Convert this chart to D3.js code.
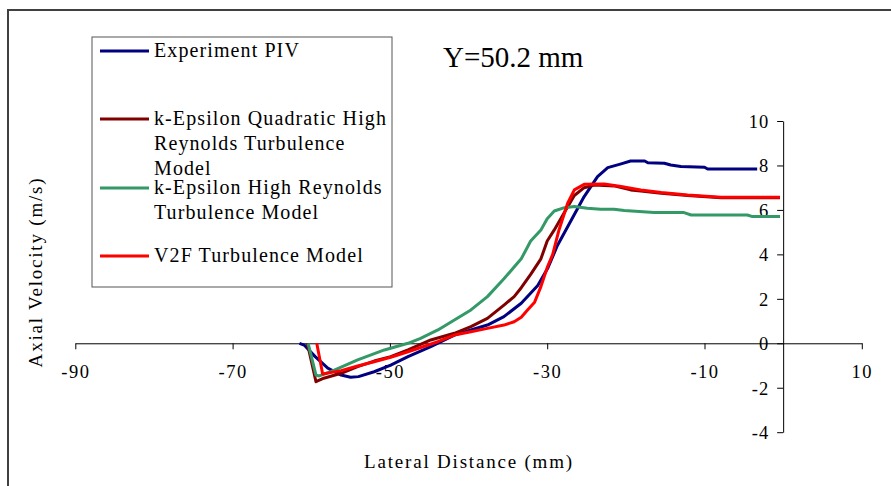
<!DOCTYPE html>
<html>
<head>
<meta charset="utf-8">
<script src="https://cdn.jsdelivr.net/npm/d3@7"></script>
<style>
  html, body { margin: 0; padding: 0; background: #fff; }
  svg { display: block; }
  text { font-family: "Liberation Serif", "Times New Roman", serif; fill: #000; }
</style>
</head>
<body>
<svg id="chart" width="891" height="486"></svg>
<script>
// ---- Data ----
const xTicks = [-90, -70, -50, -30, -10, 10];
const yTicks = [-4, -2, 0, 2, 4, 6, 8, 10];

const seriesNames = [
  "Experiment PIV",
  "k-Epsilon Quadratic High Reynolds Turbulence Model",
  "k-Epsilon High Reynolds Turbulence Model",
  "V2F Turbulence Model"
];
const seriesColors = ["#000080", "#800000", "#339966", "#ff0000"];

const experimentPIV = [
  [-61.5,0],[-60.9,-0.08],[-59.5,-0.6],[-57.9,-1.12],[-56.2,-1.43],[-55.0,-1.53],[-54.0,-1.5],
  [-52.0,-1.28],[-49.9,-0.98],[-47.7,-0.6],[-44.8,-0.15],[-41.8,0.37],[-39.7,0.6],[-37.6,0.82],
  [-35.5,1.2],[-33.3,1.8],[-31.2,2.6],[-29.9,3.4],[-28.7,4.4],[-27.0,5.5],[-25.3,6.6],[-23.6,7.5],
  [-22.3,7.9],[-20.6,8.07],[-19.4,8.2],[-17.6,8.2],[-17.2,8.12],[-15.1,8.1],[-14.3,8.02],
  [-13.0,7.95],[-10.0,7.92],[-9.6,7.84],[-3.3,7.84]
];
const kEpsQuadratic = [
  [-60.5,0],[-59.4,-1.73],[-58.4,-1.57],[-56.2,-1.35],[-54.1,-1.05],[-52.0,-0.8],[-49.9,-0.6],
  [-47.7,-0.3],[-44.8,0.15],[-41.8,0.45],[-39.7,0.75],[-37.6,1.12],[-35.5,1.72],[-34.2,2.1],
  [-33.3,2.5],[-32.1,3.1],[-30.8,3.8],[-30.0,4.6],[-29.1,5.1],[-27.8,5.9],[-26.55,6.65],
  [-25.3,7.0],[-24.0,7.12],[-21.5,7.08],[-19.4,6.9],[-18.1,6.85],[-15.5,6.75],[-12.15,6.65],
  [-7.9,6.55],[-4.5,6.55],[-0.4,6.55]
];
const kEpsHigh = [
  [-60.4,0],[-59.4,-1.43],[-59.0,-1.47],[-57.5,-1.28],[-54.1,-0.75],[-50.7,-0.3],[-47.7,0],
  [-46.1,0.22],[-43.9,0.6],[-41.8,1.05],[-39.7,1.5],[-37.6,2.1],[-35.5,2.9],[-33.3,3.8],
  [-32.1,4.6],[-30.8,5.1],[-30.0,5.6],[-29.1,5.95],[-27.8,6.1],[-26.55,6.15],[-24.9,6.07],
  [-23.2,6.03],[-21.5,6.03],[-20.2,5.97],[-16.4,5.88],[-12.6,5.88],[-11.7,5.77],[-4.55,5.77],
  [-3.9,5.7],[-0.4,5.7]
];
const v2f = [
  [-59.3,0],[-58.55,-1.38],[-56.2,-1.23],[-54.1,-1.02],[-52.0,-0.83],[-49.9,-0.63],[-47.7,-0.38],
  [-43.9,0.07],[-41.8,0.37],[-39.7,0.52],[-37.6,0.67],[-35.5,0.82],[-34.2,0.97],[-33.3,1.17],
  [-32.5,1.5],[-31.6,1.85],[-30.8,2.55],[-29.95,3.45],[-29.3,4.0],[-28.5,5.1],[-27.4,6.3],
  [-26.55,6.9],[-25.3,7.15],[-22.75,7.17],[-20.6,7.05],[-18.1,6.9],[-15.5,6.78],[-12.15,6.67],
  [-7.9,6.57],[-0.4,6.57]
];
const allSeries = [experimentPIV, kEpsQuadratic, kEpsHigh, v2f];

const legendLines = [
  ["Experiment PIV"],
  ["k-Epsilon Quadratic High", "Reynolds Turbulence", "Model"],
  ["k-Epsilon High Reynolds", "Turbulence Model"],
  ["V2F Turbulence Model"]
];

// ---- Drawing ----
const svg = d3.select("#chart");

// outer chart border (extends past the right/bottom edges)
svg.append("rect")
  .attr("x", 8).attr("y", 10).attr("width", 1000).attr("height", 1000)
  .attr("fill", "none").attr("stroke", "#404040").attr("stroke-width", 2);

const x = d3.scaleLinear().domain([-90, 10]).range([75.3, 861.8]);
const y = d3.scaleLinear().domain([-4, 10]).range([432.2, 121]);

const fmt = d => String(d);

// X axis at y = 0
const xAxis = d3.axisBottom(x).tickValues(xTicks).tickSize(6).tickSizeOuter(0).tickFormat(fmt);
const gx = svg.append("g").attr("transform", `translate(0,${y(0)})`).call(xAxis);
gx.select(".domain").attr("stroke", "#000");
gx.selectAll(".tick line").attr("stroke", "#000");
gx.selectAll(".tick text")
  .attr("y", 35).attr("dy", 0)
  .style("font-size", "18.5px").style("letter-spacing", "1.5px")
  .style("font-family", "'Liberation Serif', serif").attr("fill", "#000");

// Y axis at x = 0
const yAxis = d3.axisLeft(y).tickValues(yTicks).tickSize(6).tickSizeOuter(0).tickFormat(fmt);
const gy = svg.append("g").attr("transform", `translate(${x(0)},0)`).call(yAxis);
gy.select(".domain").attr("stroke", "#000");
gy.selectAll(".tick line").attr("stroke", "#000");
gy.selectAll(".tick text")
  .attr("x", -14).attr("dy", "0.35em")
  .style("font-size", "18.5px").style("letter-spacing", "1px")
  .style("font-family", "'Liberation Serif', serif").attr("fill", "#000");

// series lines
const line = d3.line().x(d => x(d[0])).y(d => y(d[1]));
svg.append("g").selectAll("path")
  .data(allSeries)
  .join("path")
  .attr("d", line)
  .attr("fill", "none")
  .attr("stroke", (d, i) => seriesColors[i])
  .attr("stroke-width", 3)
  .attr("stroke-linejoin", "round");

// title
svg.append("text")
  .attr("x", 443).attr("y", 67)
  .style("font-size", "29px")
  .text("Y=50.2 mm");

// axis titles
svg.append("text")
  .attr("x", 469).attr("y", 468)
  .attr("text-anchor", "middle")
  .style("font-size", "19px").style("letter-spacing", "1.8px")
  .text("Lateral Distance (mm)");

svg.append("text")
  .attr("transform", "translate(42,272) rotate(-90)")
  .attr("text-anchor", "middle")
  .style("font-size", "19px").style("letter-spacing", "1.8px")
  .text("Axial Velocity (m/s)");

// legend
const legend = svg.append("g");
legend.append("rect")
  .attr("x", 92).attr("y", 37).attr("width", 300).attr("height", 250)
  .attr("fill", "#fff").attr("stroke", "#555").attr("stroke-width", 1);

const legendBaselines = [57, 125, 194, 262];
legendLines.forEach((lines, i) => {
  const b = legendBaselines[i];
  legend.append("line")
    .attr("x1", 100).attr("x2", 149)
    .attr("y1", b - 6).attr("y2", b - 6)
    .attr("stroke", seriesColors[i]).attr("stroke-width", 3);
  lines.forEach((t, j) => {
    legend.append("text")
      .attr("x", 154).attr("y", b + j * 25)
      .style("font-size", "20px").style("letter-spacing", "1.1px")
      .text(t);
  });
});
</script>
</body>
</html>
